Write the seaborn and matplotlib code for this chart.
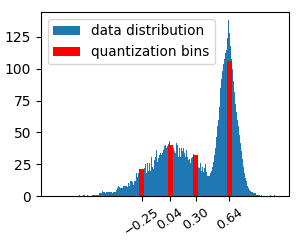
import numpy as np
import pandas as pd
import matplotlib
matplotlib.use("Agg")
import matplotlib.pyplot as plt
from matplotlib.patches import Patch
import seaborn as sns

# ---- data ----
BIN_START = -0.882
BIN_WIDTH = 0.01016
HIST_COUNTS = [
    1, 0, 0, 0, 1, 1, 0, 0, 1, 0,
    0, 0, 0, 1, 1, 1, 1, 1, 1, 1,
    2, 2, 2, 4, 3, 3, 2, 3, 3, 3,
    3, 3, 3, 2, 3, 3, 3, 5, 6, 8,
    7, 6, 6, 6, 8, 8, 8, 8, 7, 10,
    8, 12, 12, 11, 9, 12, 12, 18, 15, 18,
    20, 17, 19, 20, 18, 22, 25, 18, 26, 20,
    26, 20, 31, 23, 21, 28, 31, 36, 27, 30,
    32, 34, 32, 34, 36, 39, 40, 38, 39, 41,
    43, 40, 37, 34, 38, 35, 34, 42, 40, 31,
    38, 31, 38, 35, 38, 34, 31, 36, 31, 28,
    29, 26, 30, 31, 33, 31, 30, 29, 28, 23,
    22, 26, 20, 23, 19, 22, 25, 19, 16, 16,
    16, 18, 20, 23, 27, 32, 38, 46, 55, 60,
    70, 85, 92, 98, 104, 108, 112, 115, 124, 138,
    128, 118, 108, 100, 90, 82, 72, 66, 60, 55,
    48, 42, 35, 29, 23, 18, 14, 12, 8, 6,
    5, 4, 3, 3, 2, 2, 2, 1, 1, 1,
    1, 0, 1, 0, 0, 0, 0, 0, 0, 0,
    0, 1, 0, 0, 0, 1,
]
Q_VALUES = [-0.25, 0.04, 0.30, 0.64]
Q_HEIGHTS = [21, 40, 32, 106]
Q_WIDTH = 0.05
TICK_LABELS = ["\u22120.25", "0.04", "0.30", "0.64"]
LEGEND_LABELS = ["data distribution", "quantization bins"]

n = len(HIST_COUNTS)
edges = [BIN_START + BIN_WIDTH * i for i in range(n + 1)]
centers = [(edges[i] + edges[i + 1]) / 2 for i in range(n)]
df = pd.DataFrame({"value": centers, "count": HIST_COUNTS})

fig = plt.figure(figsize=(3.0, 2.46), dpi=100)
ax = fig.add_axes([41 / 300, 1 - 196 / 246, 248 / 300, 184 / 246])

blue = "#1f77b4"
sns.histplot(data=df, x="value", weights="count", bins=edges, color=blue,
             alpha=1, linewidth=0, ax=ax)
ax.bar(Q_VALUES, Q_HEIGHTS, width=Q_WIDTH, color="red", linewidth=0, zorder=3)

ax.set_xlim(-1.273, 1.247)
ax.set_ylim(0, 144.6)
ax.set_yticks([0, 25, 50, 75, 100, 125])
ax.set_xticks(Q_VALUES)
ax.set_xticklabels(TICK_LABELS, rotation=35, fontsize=9.2)
ax.set_xlabel("")
ax.set_ylabel("")
ax.tick_params(axis="y", labelsize=10)

handles = [Patch(facecolor=blue, label=LEGEND_LABELS[0]),
           Patch(facecolor="red", label=LEGEND_LABELS[1])]
ax.legend(handles=handles, loc="upper left", fontsize=9.8)

fig.savefig("out.png", dpi=100)
